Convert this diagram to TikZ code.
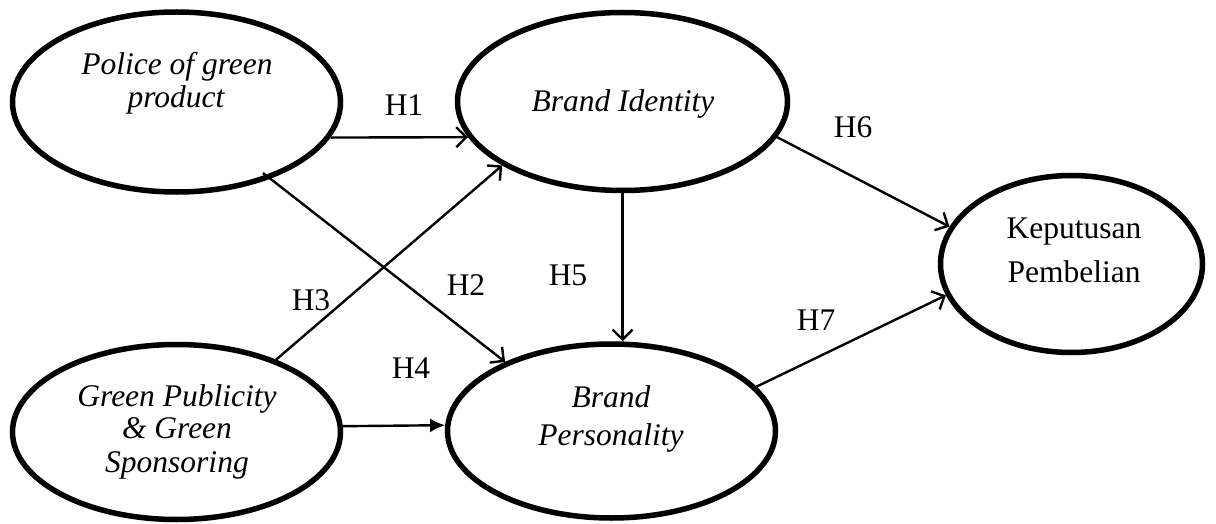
\documentclass[tikz,border=0pt]{standalone}
\usepackage{fontspec}
\setmainfont{Liberation Serif}
\usetikzlibrary{shapes.geometric,arrows.meta}
\begin{document}
\begin{tikzpicture}[x=1pt,y=-1pt,
  ell/.style={ellipse,draw=black,line width=5.5pt,inner sep=0pt},
  lbl/.style={anchor=base,inner sep=0pt,font=\fontsize{31.5}{36}\selectfont},
  itl/.style={lbl,font=\fontsize{31.5}{36}\selectfont\itshape},
  conn/.style={draw=black,line width=2.4pt,-{Straight Barb[length=10pt,width=20pt,line width=2.4pt]}},
  connf/.style={draw=black,line width=2.4pt,-{Latex[length=15pt,width=14pt]}}]
\useasboundingbox (0,0) rectangle (1216,524);
% ellipses
\node[ell,minimum width=328pt,minimum height=180pt] (pgp) at (176.5,102) {};
\node[ell,minimum width=328pt,minimum height=175pt] (gp) at (176.5,432) {};
\node[ell,minimum width=330pt,minimum height=178pt] (bi) at (622.5,101.5) {};
\node[ell,minimum width=328pt,minimum height=174pt] (bp) at (611.5,431) {};
\node[ell,minimum width=262pt,minimum height=177pt] (kp) at (1071.5,264) {};
% texts
\node[itl] (pgp1) at (177,75) {Police of green};
\node[itl] (pgp2) at (176,108) {product};
\node[itl] (gp1) at (177,406) {Green Publicity};
\node[itl] (gp2) at (177,438) {\& Green};
\node[itl] (gp3) at (177,472) {Sponsoring};
\node[itl] (bi1) at (623,112) {Brand Identity};
\node[itl] (bp1) at (611,407) {Brand};
\node[itl] (bp2) at (611,445) {Personality};
\node[lbl] (kp1) at (1074,238) {Keputusan};
\node[lbl] (kp2) at (1074,282) {Pembelian};
% hypothesis labels
\node[lbl] (h1) at (404,116) {H1};
\node[lbl] (h2) at (466,295) {H2};
\node[lbl] (h3) at (311,310) {H3};
\node[lbl] (h4) at (411,378) {H4};
\node[lbl] (h5) at (568,285) {H5};
\node[lbl] (h6) at (853,138) {H6};
\node[lbl] (h7) at (816,330) {H7};
% connectors
\coordinate (h2s) at (263,173);
\draw[conn] (pgp.-13.9) -- (bi.193.4);
\draw[conn] (h2s) -- (bp.147.4);
\draw[conn] (gp.36.8) -- (bi.208.6);
\draw[connf] (gp.2) -- (bp.178);
\draw[conn] (bi.south) -- (bi.south |- bp.north);
\draw[conn] (bi.-13.9) -- (kp.163.8);
\draw[conn] (bp.17.7) -- (kp.194.7);
\end{tikzpicture}
\end{document}
